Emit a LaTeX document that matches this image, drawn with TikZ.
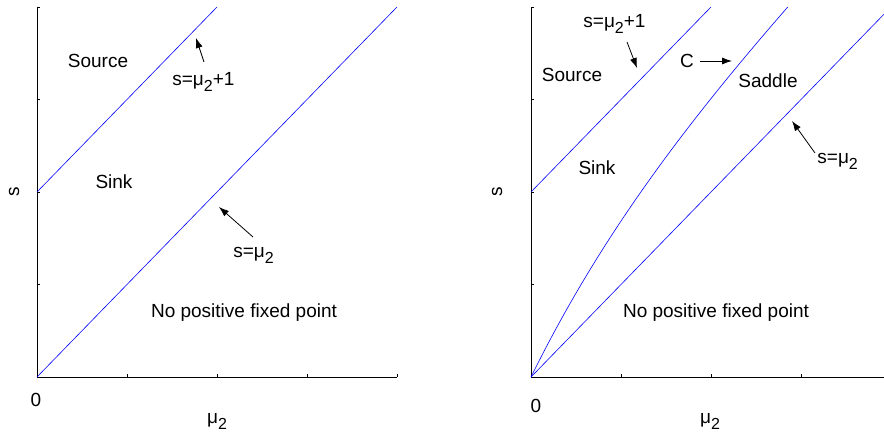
\documentclass[tikz,border=0pt]{standalone}
\usepackage{fontspec}
\setmainfont{Liberation Sans}
\usetikzlibrary{arrows.meta}
\newcommand\mutwo{μ\raisebox{-0.6ex}{\fontsize{8}{9}\selectfont 2}}
\tikzset{
  axisline/.style={line width=0.35pt,black},
  tickmark/.style={line width=0.35pt,black},
  curveline/.style={line width=0.3pt,blue},
  pointer/.style={line width=0.4pt,black,-{Latex[length=5pt,width=3.5pt]}},
  lbl/.style={inner sep=0pt,font=\fontsize{9.5}{11}\selectfont}
}
\begin{document}
\begin{tikzpicture}[x=0.5pt,y=-0.5pt]
\useasboundingbox (0,0) rectangle (884,437);
\clip (0,0) rectangle (884,437);
% ---------- left panel ----------
\coordinate (LO) at (37,377);
\coordinate (LT) at (37,7);
\coordinate (LR) at (397,377);
\draw[axisline] (LT) -- (LO) -- (LR);
\foreach \yy in {7,99.5,192,284.5} \draw[tickmark] (37,\yy) -- (40,\yy);
\foreach \xx in {127,217,307,397} \draw[tickmark] (\xx,377) -- (\xx,374);
\coordinate (LA1) at (397,7);
\coordinate (LB0) at (37,192);
\coordinate (LB1) at (217,7);
\draw[curveline] (LO) -- (LA1);
\draw[curveline] (LB0) -- (LB1);
\node[lbl] (lsource) at (98,61) {Source};
\node[lbl] (lsink) at (114,182) {Sink};
\node[lbl,anchor=west] (lsp1) at (172,82) {s=\mutwo+1};
\node[lbl,anchor=west] (lsm) at (233,255) {s=\mutwo};
\node[lbl] (lnone) at (244,313) {No positive fixed point};
\node[lbl] (lzero) at (36,400) {0};
\node[lbl] (lmu) at (217,421) {\mutwo};
\node[lbl,rotate=90] (ls) at (14,192) {s};
\coordinate (la1s) at (204,62);
\coordinate (la1e) at (196,38);
\coordinate (la2s) at (253,237);
\coordinate (la2e) at (219,207);
\draw[pointer] (la1s) -- (la1e);
\draw[pointer] (la2s) -- (la2e);
% ---------- right panel ----------
\coordinate (RO) at (531,377);
\coordinate (RT) at (531,7);
\coordinate (RR) at (891,377);
\draw[axisline] (RT) -- (RO) -- (RR);
\foreach \yy in {7,99.5,192,284.5} \draw[tickmark] (531,\yy) -- (534,\yy);
\foreach \xx in {621,711,801} \draw[tickmark] (\xx,377) -- (\xx,374);
\coordinate (RA1) at (891,7);
\coordinate (RB0) at (531,192);
\coordinate (RB1) at (711,7);
\draw[curveline] (RO) -- (RA1);
\draw[curveline] (RB0) -- (RB1);
\draw[curveline,domain=0:1.4265,samples=90,smooth] plot ({531+180*\x},{377-185*(\x+0.65*(1-exp(-1.5*\x)))});
\node[lbl,anchor=west] (rsp1) at (583,24) {s=\mutwo+1};
\node[lbl] (rsource) at (572,75) {Source};
\node[lbl] (rc) at (687,61) {C};
\node[lbl] (rsaddle) at (768,81) {Saddle};
\node[lbl] (rsink) at (597,168) {Sink};
\node[lbl,anchor=west] (rsm) at (817,161) {s=\mutwo};
\node[lbl] (rnone) at (716,313) {No positive fixed point};
\node[lbl] (rzero) at (536,406) {0};
\node[lbl] (rmu) at (710,421) {\mutwo};
\node[lbl,rotate=90] (rs) at (497,192) {s};
\coordinate (ra1s) at (627,42);
\coordinate (ra1e) at (637,68);
\coordinate (ra2s) at (700,61);
\coordinate (ra2e) at (732,61);
\coordinate (ra3s) at (815,153);
\coordinate (ra3e) at (792,121);
\draw[pointer] (ra1s) -- (ra1e);
\draw[pointer] (ra2s) -- (ra2e);
\draw[pointer] (ra3s) -- (ra3e);
\end{tikzpicture}
\end{document}
